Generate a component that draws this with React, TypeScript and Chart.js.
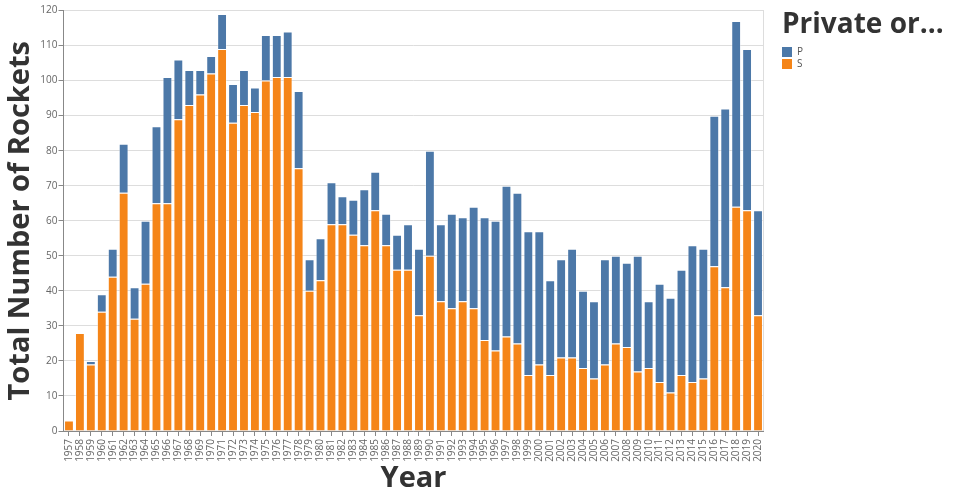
import React, { useEffect, useRef } from "react";
import { Chart, registerables } from "chart.js";

Chart.register(...registerables);

const FONT = "'Open Sans', 'DejaVu Sans', sans-serif";

const years = [
  "1957", "1958", "1959", "1960", "1961", "1962", "1963", "1964", "1965", "1966",
  "1967", "1968", "1969", "1970", "1971", "1972", "1973", "1974", "1975", "1976",
  "1977", "1978", "1979", "1980", "1981", "1982", "1983", "1984", "1985", "1986",
  "1987", "1988", "1989", "1990", "1991", "1992", "1993", "1994", "1995", "1996",
  "1997", "1998", "1999", "2000", "2001", "2002", "2003", "2004", "2005", "2006",
  "2007", "2008", "2009", "2010", "2011", "2012", "2013", "2014", "2015", "2016",
  "2017", "2018", "2019", "2020",
];

// State (S) launches per year
const stateRockets = [
  3, 28, 19, 34, 44, 68, 32, 42, 65, 65,
  89, 93, 96, 102, 109, 88, 93, 91, 100, 101,
  101, 75, 40, 43, 59, 59, 56, 53, 63, 53,
  46, 46, 33, 50, 37, 35, 37, 35, 26, 23,
  27, 25, 16, 19, 16, 21, 21, 18, 15, 19,
  25, 24, 17, 18, 14, 11, 16, 14, 15, 47,
  41, 64, 63, 33,
];

// Private (P) launches per year
const privateRockets = [
  0, 0, 1, 5, 8, 14, 9, 18, 22, 36,
  17, 10, 7, 5, 10, 11, 10, 7, 13, 12,
  13, 22, 9, 12, 12, 8, 10, 16, 11, 9,
  10, 13, 19, 30, 22, 27, 24, 29, 35, 37,
  43, 43, 41, 38, 27, 28, 31, 22, 22, 30,
  25, 24, 33, 19, 28, 27, 30, 39, 37, 43,
  51, 53, 46, 30,
];

const yTicksMax = 120;
const yTickStep = 10;

const legendTitle = "Private or…";
const xTitle = "Year";
const yTitle = "Total Number of Rockets";

const COLOR_P = "#4c78a8";
const COLOR_S = "#f58518";
const BAR_STROKE = "rgba(255,255,255,0.4)";

const framePlugin = {
  id: "viewFrame",
  beforeDraw(chart: any) {
    const { ctx, chartArea: a } = chart;
    ctx.save();
    ctx.strokeStyle = "#dddddd";
    ctx.lineWidth = 1;
    ctx.strokeRect(a.left, a.top, a.right - a.left, a.bottom - a.top);
    ctx.restore();
  },
};

const sideLegendPlugin = {
  id: "sideLegend",
  afterDraw(chart: any) {
    const { ctx, chartArea: a } = chart;
    const x0 = a.right + 18.5;
    ctx.save();
    ctx.fillStyle = "#333333";
    ctx.font = `bold 28px ${FONT}`;
    ctx.textAlign = "left";
    ctx.textBaseline = "alphabetic";
    ctx.fillText(legendTitle, x0, 33);
    const items = [...chart.data.datasets].reverse();
    items.forEach((ds: any, i: number) => {
      const y = 47 + i * 12;
      ctx.fillStyle = ds.backgroundColor;
      ctx.fillRect(x0, y, 10, 10);
      ctx.fillStyle = "#555555";
      ctx.font = `10px ${FONT}`;
      ctx.textBaseline = "middle";
      ctx.fillText(ds.label, x0 + 15, y + 5.5);
    });
    ctx.restore();
  },
};

export default function App() {
  const canvasRef = useRef<HTMLCanvasElement | null>(null);

  useEffect(() => {
    if (!canvasRef.current) return;
    const chart = new Chart(canvasRef.current, {
      type: "bar",
      data: {
        labels: years,
        datasets: [
          {
            label: "S",
            data: stateRockets,
            backgroundColor: COLOR_S,
            borderColor: BAR_STROKE,
            borderWidth: 1,
            borderSkipped: "bottom",
            barPercentage: 0.9,
            categoryPercentage: 1,
          },
          {
            label: "P",
            data: privateRockets,
            backgroundColor: COLOR_P,
            borderColor: BAR_STROKE,
            borderWidth: 1,
            borderSkipped: "bottom",
            barPercentage: 0.9,
            categoryPercentage: 1,
          },
        ],
      },
      options: {
        responsive: false,
        animation: false,
        layout: { padding: { top: 10.5, right: 196.5, left: 0, bottom: 0 } },
        plugins: {
          legend: { display: false },
          tooltip: { enabled: false },
        },
        scales: {
          x: {
            stacked: true,
            offset: true,
            grid: {
              offset: false,
              drawOnChartArea: false,
              drawTicks: true,
              tickLength: 5,
              tickColor: "#888888",
            },
            border: { color: "#888888" },
            ticks: {
              autoSkip: false,
              minRotation: 90,
              maxRotation: 90,
              padding: 3,
              color: "#666666",
              font: { family: FONT, size: 10 },
            },
            title: {
              display: true,
              text: xTitle,
              color: "#333333",
              font: { family: FONT, size: 29, weight: "bold" },
              padding: { top: 0, bottom: 4 },
            },
            afterFit(scale: any) {
              scale.height = 69;
            },
          },
          y: {
            stacked: true,
            min: 0,
            max: yTicksMax,
            grid: {
              color: "#dddddd",
              tickColor: "#888888",
              tickLength: 5,
            },
            border: { color: "#888888" },
            ticks: {
              stepSize: yTickStep,
              padding: 1,
              color: "#666666",
              font: { family: FONT, size: 10 },
            },
            title: {
              display: true,
              text: yTitle,
              color: "#333333",
              font: { family: FONT, size: 29, weight: "bold" },
              padding: { top: 3, bottom: 0 },
            },
            afterFit(scale: any) {
              scale.width = 63.5;
            },
          },
        },
      },
      plugins: [framePlugin, sideLegendPlugin],
    });
    return () => chart.destroy();
  }, []);

  return (
    <div style={{ position: "absolute", left: 0, top: 0, width: 960, height: 500 }}>
      <canvas ref={canvasRef} width={960} height={500} style={{ display: "block" }} />
    </div>
  );
}
